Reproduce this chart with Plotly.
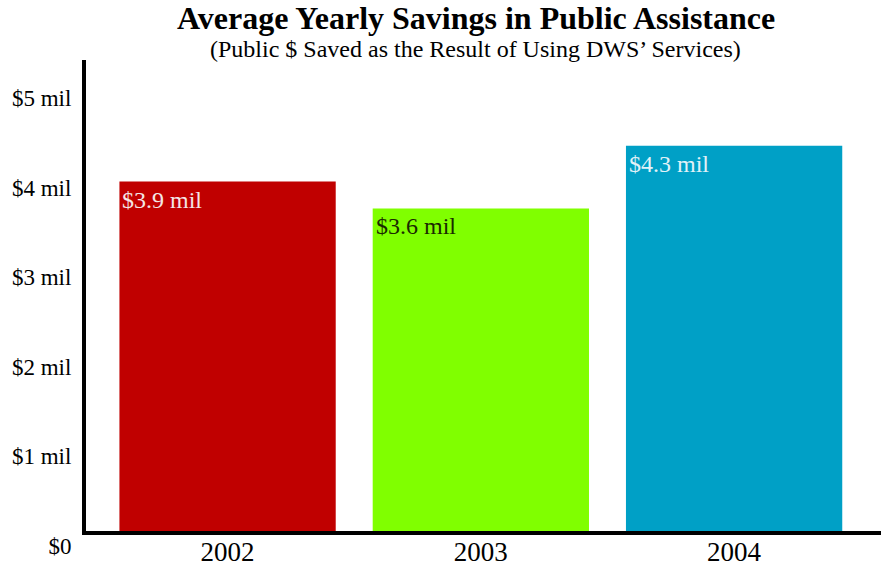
import plotly.graph_objects as go

years = ["2002", "2003", "2004"]
savings_mil = [3.9, 3.6, 4.3]
bar_labels = ["$3.9 mil", "$3.6 mil", "$4.3 mil"]
bar_colors = ["#C00000", "#80FF00", "#00A0C6"]
label_colors = ["#F4E6E6", "#1A2A00", "#E2F2F8"]
y_tick_vals = [0, 1, 2, 3, 4, 5]
y_tick_text = ["$0", "$1 mil", "$2 mil", "$3 mil", "$4 mil", "$5 mil"]

FONT = "Liberation Serif, Times New Roman, serif"
bar_width = 0.854

fig = go.Figure()
fig.add_trace(go.Bar(
    x=years, y=savings_mil, marker=dict(color=bar_colors, line=dict(width=0)),
    width=bar_width, hoverinfo="skip", showlegend=False,
))

for i, (lab, col) in enumerate(zip(bar_labels, label_colors)):
    fig.add_annotation(
        x=i - bar_width / 2, y=savings_mil[i], xref="x", yref="y",
        text=lab, showarrow=False, xanchor="left", yanchor="top",
        xshift=1, yshift=-3,
        font=dict(family=FONT, size=24, color=col),
    )

fig.add_annotation(
    x=0.49, y=1, xref="paper", yref="paper", yanchor="bottom", yshift=22,
    text="<b>Average Yearly Savings in Public Assistance</b>", showarrow=False,
    font=dict(family=FONT, size=32, color="#000000"),
)
fig.add_annotation(
    x=0.49, y=1, xref="paper", yref="paper", yanchor="bottom", yshift=-4,
    text="(Public $ Saved as the Result of Using DWS’ Services)", showarrow=False,
    font=dict(family=FONT, size=24, color="#000000"),
)

fig.update_layout(
    width=881, height=568,
    margin=dict(l=86, r=0, t=60, b=37, autoexpand=False),
    paper_bgcolor="white", plot_bgcolor="white",
    font=dict(family=FONT, color="#000000"),
    xaxis=dict(
        type="category", range=[-0.559, 2.58], automargin=False,
        showline=True, linecolor="black", linewidth=4,
        showgrid=False, zeroline=False, ticks="",
        tickfont=dict(family=FONT, size=27, color="#000000"),
        ticklabelstandoff=-6,
    ),
    yaxis=dict(
        range=[0, 5.257], tickvals=y_tick_vals, ticktext=y_tick_text,
        automargin=False,
        showline=True, linecolor="black", linewidth=4,
        showgrid=False, zeroline=False, ticks="",
        tickfont=dict(family=FONT, size=23, color="#000000"),
        ticklabelshift=15, ticklabelstandoff=6,
    ),
)

fig.write_html(
    "out.html",
    config={"displayModeBar": False},
    post_script="document.body.style.margin='0';document.body.style.overflow='hidden';",
)
